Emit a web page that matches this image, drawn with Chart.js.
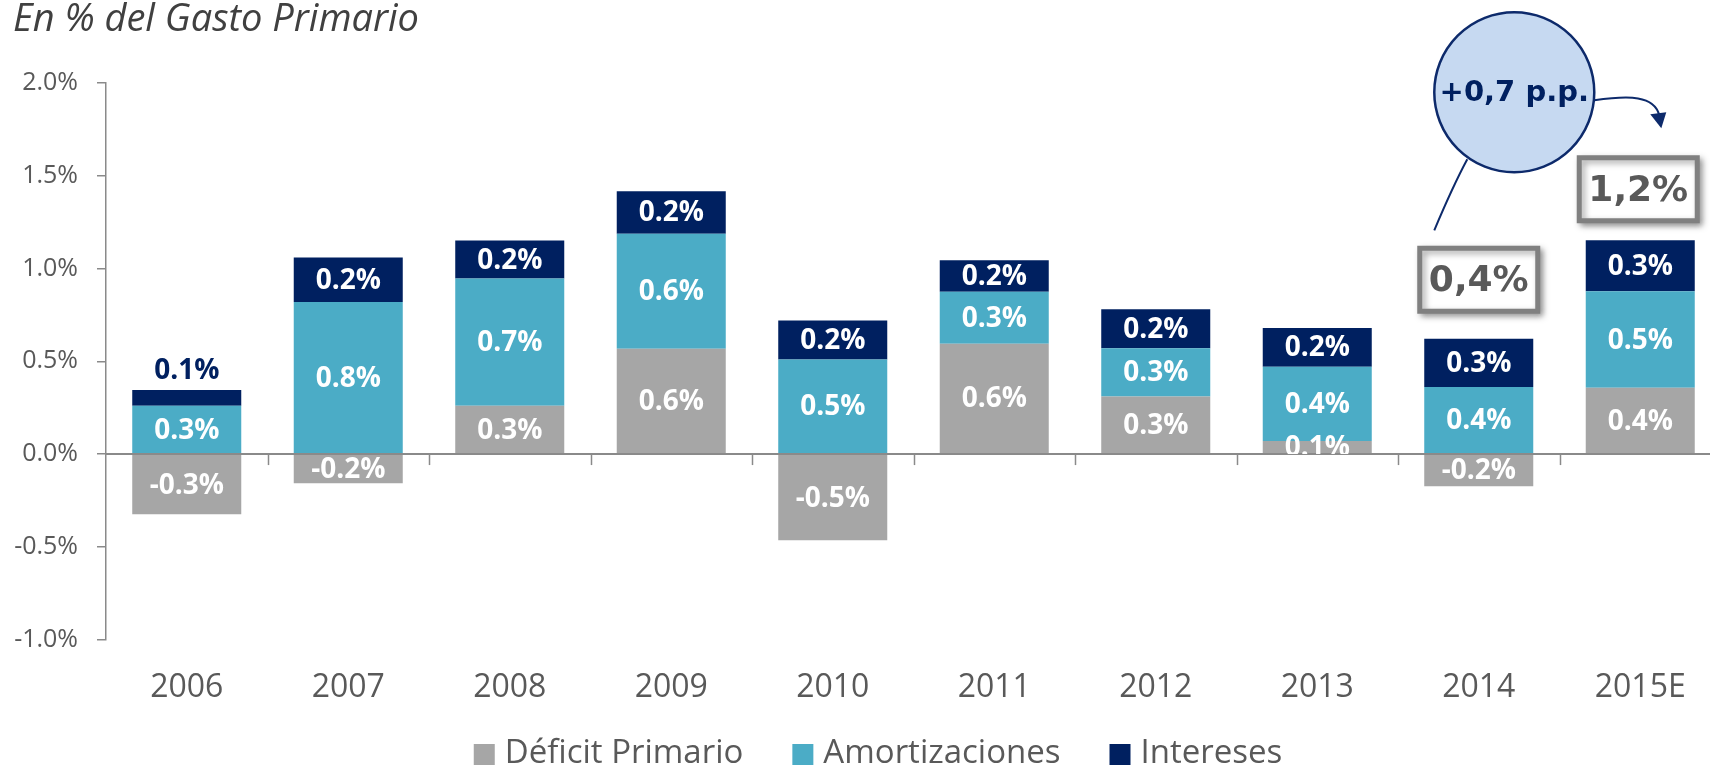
<!DOCTYPE html>
<html>
<head>
<meta charset="utf-8">
<script src="https://cdn.jsdelivr.net/npm/chart.js@4.4.1/dist/chart.umd.min.js"></script>
<style>
  html, body { margin: 0; padding: 0; overflow: hidden; background: #fff; }
  #wrap { position: relative; width: 1721px; height: 770px; }
</style>
</head>
<body>
<div id="wrap"><canvas id="chart"></canvas></div>
<script>
// data (percent of primary spending)
var years = ["2006", "2007", "2008", "2009", "2010", "2011", "2012", "2013", "2014", "2015E"];
var deficitPrimario = [-0.325, -0.157, 0.26, 0.567, -0.465, 0.595, 0.31, 0.07, -0.173, 0.357];
var amortizaciones = [0.26, 0.82, 0.686, 0.62, 0.51, 0.28, 0.26, 0.40, 0.362, 0.52];
var intereses = [0.085, 0.24, 0.205, 0.23, 0.21, 0.17, 0.21, 0.21, 0.26, 0.275];
var seriesNames = ["Déficit Primario", "Amortizaciones", "Intereses"];
var seriesColors = ["#a6a6a6", "#4bacc6", "#002060"];
var yTicks = [-1.0, -0.5, 0.0, 0.5, 1.0, 1.5, 2.0];
var titleText = "En % del Gasto Primario";
var bubbleText = "+0,7 p.p.";
var boxTexts = ["0,4%", "1,2%"];

var gray = "#595959";
var axisGray = "#8a8a8a";

function pct(v) {
    return v.toFixed(1) + "%";
}

var extras = {
    id: "extras",
    afterDatasetsDraw: function (chart) {
        var ctx = chart.ctx;
        var area = chart.chartArea;
        var y = chart.scales.y;
        var zero = y.getPixelForValue(0);

        // category axis sits on the zero line
        ctx.save();
        ctx.strokeStyle = axisGray;
        ctx.lineWidth = 2;
        ctx.beginPath();
        ctx.moveTo(area.left, zero);
        ctx.lineTo(area.right, zero);
        ctx.stroke();
        var step = (area.right - area.left) / years.length;
        ctx.lineWidth = 1.5;
        for (var i = 1; i <= years.length; i++) {
            var bx = Math.round(area.left + i * step) + 0.5;
            ctx.beginPath();
            ctx.moveTo(bx, zero);
            ctx.lineTo(bx, zero + 11);
            ctx.stroke();
        }
        ctx.restore();

        // value labels
        var last = chart.data.datasets.length - 1;
        chart.data.datasets.forEach(function (ds, di) {
            var meta = chart.getDatasetMeta(di);
            meta.data.forEach(function (bar, i) {
                var v = ds.data[i];
                var h = Math.abs(bar.base - bar.y);
                ctx.save();
                ctx.font = "bold 28px 'Open Sans'";
                ctx.textAlign = "center";
                ctx.textBaseline = "middle";
                if (di === last && h < 20) {
                    ctx.fillStyle = seriesColors[di];
                    ctx.fillText(pct(v), bar.x, bar.y - 19);
                } else {
                    ctx.beginPath();
                    if (v >= 0) {
                        ctx.rect(bar.x - 100, 0, 200, zero);
                    } else {
                        ctx.rect(bar.x - 100, zero, 200, chart.height);
                    }
                    ctx.clip();
                    ctx.fillStyle = "#ffffff";
                    ctx.fillText(pct(v), bar.x, (bar.y + bar.base) / 2 + 1);
                }
                ctx.restore();
            });
        });
    },
    afterDraw: function (chart) {
        var ctx = chart.ctx;
        var x = chart.scales.x;
        var y = chart.scales.y;
        var step = x.getPixelForValue(1) - x.getPixelForValue(0);

        // title
        ctx.save();
        ctx.font = "italic 38px 'Open Sans'";
        ctx.fillStyle = "#404040";
        ctx.textBaseline = "alphabetic";
        ctx.fillText(titleText, 13, 31);
        ctx.restore();

        // legend
        ctx.save();
        ctx.font = "33px 'Open Sans'";
        ctx.textBaseline = "middle";
        var widths = seriesNames.map(function (n) { return 21 + 10 + ctx.measureText(n).width; });
        var total = widths.reduce(function (a, b) { return a + b; }, 0) + 49 * (seriesNames.length - 1);
        var lx = 878 - total / 2;
        var ly = 754;
        seriesNames.forEach(function (n, k) {
            ctx.fillStyle = seriesColors[k];
            ctx.fillRect(lx, ly - 10, 21, 21);
            ctx.fillStyle = gray;
            ctx.fillText(n, lx + 31, ly);
            lx += widths[k] + 49;
        });
        ctx.restore();

        // bubble with connectors
        var cx = x.getPixelForValue(8) + 0.22 * step;
        var cy = y.getPixelForValue(1.95);
        var r = 80;
        ctx.save();
        ctx.strokeStyle = "#0d2a6b";
        ctx.fillStyle = "#0d2a6b";
        ctx.lineWidth = 2;
        ctx.beginPath();
        ctx.moveTo(cx - 47, cy + 67);
        ctx.quadraticCurveTo(cx - 61, cy + 93, cx - 80, cy + 138);
        ctx.stroke();
        ctx.beginPath();
        ctx.moveTo(cx + 80, cy + 8);
        ctx.bezierCurveTo(cx + 115, cy + 3, cx + 140, cy + 3, cx + 145, cy + 23);
        ctx.stroke();
        ctx.beginPath();
        ctx.moveTo(cx + 147, cy + 36);
        ctx.lineTo(cx + 136, cy + 22);
        ctx.lineTo(cx + 152, cy + 20);
        ctx.closePath();
        ctx.fill();

        ctx.beginPath();
        ctx.arc(cx, cy, r, 0, Math.PI * 2);
        ctx.fillStyle = "#c6d9f1";
        ctx.fill();
        ctx.lineWidth = 2.5;
        ctx.strokeStyle = "#0d2a6b";
        ctx.stroke();
        ctx.font = "bold 29px 'DejaVu Sans'";
        ctx.fillStyle = "#002060";
        ctx.textAlign = "center";
        ctx.textBaseline = "middle";
        ctx.fillText(bubbleText, cx, cy + 1);
        ctx.restore();

        // boxed totals
        var boxes = [
            { cx: x.getPixelForValue(8), cy: y.getPixelForValue(0.94), text: boxTexts[0] },
            { cx: x.getPixelForValue(9) - 2, cy: y.getPixelForValue(1.427), text: boxTexts[1] }
        ];
        boxes.forEach(function (b) {
            var w = 118, h = 63;
            ctx.save();
            ctx.shadowColor = "rgba(0,0,0,0.35)";
            ctx.shadowBlur = 6;
            ctx.shadowOffsetX = 3;
            ctx.shadowOffsetY = 3;
            ctx.fillStyle = "#ffffff";
            ctx.strokeStyle = "#808080";
            ctx.lineWidth = 5;
            ctx.beginPath();
            ctx.rect(b.cx - w / 2, b.cy - h / 2, w, h);
            ctx.fill();
            ctx.stroke();
            ctx.shadowColor = "transparent";
            ctx.font = "bold 36px 'DejaVu Sans'";
            ctx.fillStyle = "#595959";
            ctx.textAlign = "center";
            ctx.textBaseline = "middle";
            ctx.fillText(b.text, b.cx, b.cy + 2);
            ctx.restore();
        });
    }
};

var chartCanvas = document.getElementById("chart");
var chart = new Chart(chartCanvas, {
    type: "bar",
    data: {
        labels: years,
        datasets: [
            { label: seriesNames[0], data: deficitPrimario, backgroundColor: seriesColors[0] },
            { label: seriesNames[1], data: amortizaciones, backgroundColor: seriesColors[1] },
            { label: seriesNames[2], data: intereses, backgroundColor: seriesColors[2] }
        ]
    },
    options: {
        responsive: true,
        maintainAspectRatio: false,
        animation: false,
        datasets: {
            bar: { barPercentage: 0.675, categoryPercentage: 1.0, borderWidth: 0 }
        },
        layout: {
            padding: { top: 83, bottom: 34, left: 0, right: 0 }
        },
        plugins: {
            legend: { display: false },
            title: { display: false },
            tooltip: { enabled: false }
        },
        scales: {
            x: {
                stacked: true,
                grid: { display: false, drawTicks: false },
                border: { display: false },
                ticks: {
                    padding: 29,
                    color: gray,
                    font: { family: "Open Sans", size: 32 }
                }
            },
            y: {
                stacked: true,
                min: yTicks[0],
                max: yTicks[yTicks.length - 1],
                afterBuildTicks: function (s) {
                    s.ticks = yTicks.map(function (v) { return { value: v }; });
                },
                afterFit: function (s) {
                    s.width = 106;
                },
                ticks: {
                    padding: 19,
                    color: gray,
                    font: { family: "Open Sans", size: 25 },
                    callback: function (v) { return pct(v); }
                },
                grid: { drawOnChartArea: false, tickLength: 9, color: axisGray, lineWidth: 1.5 },
                border: { color: axisGray, width: 1.5 }
            }
        }
    },
    plugins: [extras]
});
</script>
</body>
</html>
